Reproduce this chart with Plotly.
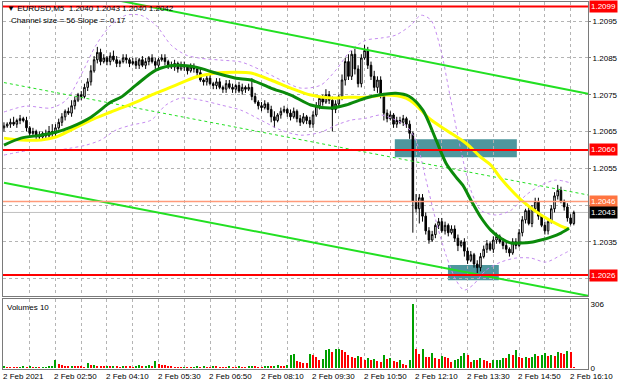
import plotly.graph_objects as go
from plotly.subplots import make_subplots

# ---------------- data (prices in pips above 1.2000) ----------------
BASE = 1.2000
first_open = 66.0

close_pips = [
    66.5, 67.0, 67.5, 67.0, 68.0, 68.5, 68.0,
    66.0, 64.5, 65.0, 64.0, 63.5, 64.5, 63.8, 65.0, 64.5, 66.0,
    67.5, 69.0, 70.5, 70.0, 72.0,
    73.5, 75.0, 74.5, 77.0, 78.5,
    81.5, 84.5, 86.5, 84.0,
    85.0, 84.0, 85.5, 84.5, 83.5, 84.0, 85.0, 84.5, 83.5, 84.0,
    83.0, 84.5, 83.0, 84.0, 85.0, 84.0, 83.0, 84.5, 85.0, 84.0,
    83.0, 82.5, 83.5, 82.0, 83.0, 82.5, 81.5, 82.5, 82.0, 81.0,
    79.0, 78.5, 79.5, 78.0, 77.5, 78.5, 77.0, 76.5, 78.0, 77.0,
    76.5, 77.5, 76.0, 77.0, 76.5, 77.0,
    74.5,
    73.0, 72.0, 71.5, 72.5, 71.0,
    69.0, 68.0, 69.5, 70.5,
    71.0, 70.0, 69.0, 70.5, 68.5, 67.5, 69.0, 68.0, 67.0,
    69.5, 72.0, 74.0, 73.0, 75.0, 73.5,
    71.0, 72.5, 74.5,
    79.0, 84.0, 80.0, 86.0, 82.0, 78.0, 85.0, 87.0, 83.0,
    80.0, 77.0, 79.0, 75.0,
    70.0,
    68.5, 69.5, 67.0, 68.0, 67.5, 68.5, 67.0,
    64.5,
    46.0,
    44.0, 47.0, 42.0, 38.0,
    35.5, 37.0, 39.5, 40.5, 38.0, 39.5, 37.5, 38.5,
    36.0, 34.0, 35.0, 32.5,
    30.0, 31.5, 29.0, 28.0, 31.0, 33.0,
    34.5, 33.0, 35.5, 36.5, 35.0, 34.0,
    33.0, 32.0, 35.0, 34.0,
    37.5, 41.0, 43.5, 40.0, 44.0, 46.0,
    42.0, 39.5, 38.0, 40.5,
    44.0, 47.5, 49.0, 46.0, 44.5,
    41.5, 40.0, 43.0,
]

wick_up = [
    1, 0.5, 1, 1.5, 0.5, 1, 0.5, 1, 0.5, 1, 0.5, 1, 0.5, 1, 1.5, 2, 1,
    1, 1, 0.5, 1, 1.5, 1, 0.5, 1, 1, 1, 1.5, 1, 1.5, 1,
    1, 0.5, 1, 1.5, 1, 0.5, 1, 1, 0.5, 1, 1, 0.5, 1, 1, 0.5, 1, 1, 0.5, 1, 1,
    0.5, 1, 1, 0.5, 1, 1, 0.5, 1, 1, 0.5,
    1, 0.5, 1, 1, 0.5, 1, 1, 0.5, 1, 1, 1, 0.5, 1, 1, 0.5, 1,
    2.5,
    1, 0.5, 1, 1, 0.5, 1, 1.5, 0.5, 1, 1, 0.5, 1, 1, 0.5, 1, 1, 0.5, 1,
    1, 1, 0.5, 1, 1.5, 1, 1, 1, 0.5,
    1.5, 1, 2, 1, 1.5, 1, 1, 1.5, 1, 1, 1.5, 1, 1, 0.5, 1, 1, 0.5, 1, 1, 1, 0.5, 1,
    0.5,
    2, 1, 1, 1, 1, 1, 0.5, 1, 1, 1, 0.5, 1, 1, 1, 0.5, 1, 1, 1, 0.5, 1, 1, 1,
    1, 0.5, 1, 1, 0.5, 1, 1, 0.5, 1, 1, 1, 1, 0.5, 1, 1, 1, 1, 0.5, 1, 1,
    1, 1, 1.5, 1, 0.5, 1, 1, 0.5,
]

wick_dn = [
    1, 0.5, 1, 0.5, 1, 1, 0.5, 1, 1, 0.5, 1, 1, 0.5, 1, 0.5, 1, 1,
    0.5, 1, 1, 0.5, 1, 1, 0.5, 1, 0.5, 1, 1, 0.5, 1, 1,
    0.5, 1, 1, 0.5, 1, 1, 0.5, 1, 1, 0.5, 1, 1, 0.5, 1, 1, 0.5, 1, 1, 0.5, 1,
    1, 0.5, 1, 1, 0.5, 1, 1, 0.5, 1, 1,
    0.5, 1, 1, 0.5, 1, 1, 0.5, 1, 1, 0.5, 1, 1, 0.5, 1, 1, 0.5,
    1,
    0.5, 1, 1, 0.5, 1, 1.5, 2, 0.5, 1, 0.5, 1, 1, 0.5, 1, 1, 0.5, 1, 1,
    1, 0.5, 1, 1, 0.5, 1, 6, 1, 0.5,
    1, 1.5, 1, 1, 1.5, 1, 1, 0.5, 1, 1, 1, 1.5, 1, 2, 1, 0.5, 1, 1, 0.5, 1, 1, 1.5,
    8.5,
    1, 4, 1.5, 1, 1, 0.5, 1, 1, 0.5, 1, 1, 0.5, 1, 1.5, 0.5, 1.5, 1, 0.5, 1, 1.5, 1, 0.5,
    1, 0.5, 1, 1, 0.5, 1, 1, 1, 0.5, 1, 0.5, 1, 1, 0.5, 1, 1, 1, 0.5, 1, 1,
    0.5, 1, 1, 0.5, 1, 1, 0.5, 0.5,
]

volumes = [
    8, 6, 5, 5, 4, 6, 7, 6, 7, 5, 6, 4, 5, 6, 8, 10,
    38,
    20, 12, 10, 9, 10, 9, 8, 7, 6,
    22,
    12, 16, 10, 9, 8, 10, 7, 8, 7, 6, 9, 8, 7, 6, 10, 12, 8, 9, 14, 10,
    34,
    18, 16, 12, 9, 8, 6, 5, 4, 6, 5, 4, 6, 7, 5, 8, 6, 5, 9, 7, 6,
    5, 4, 8, 6, 5, 7, 6, 5, 8, 10, 7, 6, 5, 8, 9, 7, 10, 12, 9, 8, 12,
    60, 66, 34, 28, 24, 22, 68, 60, 52, 38, 42, 88, 92, 78, 90, 92, 86, 76, 62, 54,
    48, 58, 52, 38, 50, 40, 44, 34, 30, 60, 44, 48, 32, 30, 36, 20, 15, 40, 306, 90,
    68, 92, 52, 52, 72, 50, 45, 58, 52, 50, 30, 36, 45, 58, 72, 60, 30, 36, 36, 48,
    38, 34, 22, 36, 38, 40, 48, 48, 66, 60, 88, 52, 50, 52, 48, 54, 66, 58, 60, 70,
    58, 60, 55, 75, 72, 68, 80, 78, 4,
]

# moving averages / bands sampled along the chart (bar index, pips)
ma_green_i = [0, 5.3, 11.5, 16.1, 20.8, 27, 33.2, 36.3, 41, 47.2, 53.4, 59.6, 65.8, 72, 76.7,
              82.9, 89.1, 95.3, 101.6, 106.2, 112.4, 116.5, 121.7, 125.8, 130.1, 134.2, 137.3,
              140.4, 142.5, 145, 148.1, 151.2, 154.3, 157.5, 160.6, 163.7, 166.8, 169.9, 173, 175.5]
ma_green_p = [61.3, 63.2, 64.0, 64.8, 66.2, 68.9, 73.0, 74.3, 77.6, 81.7, 83.0, 82.5, 80.9, 79.5, 79.0,
              76.8, 74.9, 72.2, 71.4, 72.2, 74.1, 74.9, 75.4, 74.6, 70.8, 62.7, 56.4,
              52.6, 50.4, 46.4, 41.7, 38.2, 36.0, 34.7, 34.7, 34.9, 35.5, 36.3, 37.4, 38.7]

ma_yellow_i = [0, 5.3, 11.5, 16.1, 20.8, 27, 33.2, 41, 47.2, 53.4, 59.6, 65.8, 72, 76.7, 82.9,
               89.1, 95.3, 101.6, 106.8, 112.4, 118.6, 124.8, 128, 132, 137.3, 143.5, 148.1,
               151.2, 154.3, 160.6, 166.8, 173, 175.5]
ma_yellow_p = [63.2, 62.7, 62.7, 63.5, 65.4, 68.1, 70.3, 73.0, 75.4, 77.6, 79.8, 80.9, 81.1, 80.9, 79.0,
               76.8, 74.9, 74.1, 74.3, 74.3, 74.9, 74.1, 72.2, 68.6, 65.4, 61.8, 58.0,
               55.9, 52.3, 46.4, 42.3, 39.3, 38.5]

band_up_i = [0, 6.8, 14.6, 19.3, 23.9, 28.6, 33.2, 37.9, 42.5, 47.2, 51.9, 56.5, 61.2, 67.4, 73.6,
             79.8, 86, 92.2, 98.4, 103.1, 107.8, 112.4, 117.1, 121.7, 126.4, 129.5, 132.6, 135.7,
             138.8, 141.9, 145, 148.1, 152.8, 157.5, 162.1, 166.8, 171.4, 176.1]
band_up_p = [70.3, 71.9, 71.4, 73.5, 80.3, 88.5, 93.9, 96.6, 96.6, 93.9, 88.5, 85.8, 84.9, 84.4, 83.9,
             81.7, 79.0, 76.8, 77.6, 81.7, 87.1, 89.8, 90.4, 91.2, 93.9, 96.6, 95.3, 87.1,
             73.5, 59.9, 49.1, 43.6, 42.3, 43.6, 47.7, 50.4, 51.8, 51.0]

band_dn_i = [0, 8.4, 16.1, 20.8, 25.5, 30.1, 34.8, 39.4, 45.7, 50.3, 55, 61.2, 67.4, 73.6, 79.8,
             86, 92.2, 98.4, 103.1, 107.8, 112.4, 117.1, 121.7, 124.8, 127.9, 131.1, 134.2, 137.3,
             140.4, 142.9, 145.7, 149.7, 154.3, 159, 163.7, 168.3, 173, 176.1]
band_dn_p = [58.6, 59.9, 59.9, 60.5, 61.3, 62.7, 65.4, 66.7, 68.1, 72.2, 74.1, 73.5, 72.2, 70.8, 68.1,
             65.4, 64.0, 64.8, 66.7, 68.1, 68.6, 69.5, 68.1, 66.7, 62.7, 51.8, 40.6, 31.4,
             24.6, 21.9, 23.3, 27.3, 29.5, 30.6, 30.6, 29.5, 31.4, 32.8]

# regression channel (bar index endpoints, pips)
chan_i = [0, 181.7]
chan_upper = [106.8, 75.2]
chan_mid = [78.3, 47.7]
chan_lower = [51.1, 20.3]

# horizontal levels
level_red = [1.2099, 1.2060, 1.2026]
level_orange = 1.2046
level_last = 1.2043

# zones (bar index from/to, price from/to)
zones = [(121.4, 159.3, 1.20580, 1.20629), (137.9, 153.7, 1.20246, 1.20287)]

# time axis labels
tick_idx = [0, 16, 32, 48, 64, 80, 96, 112, 128, 144, 160, 176]
tick_text = ["2 Feb 2021", "2 Feb 02:50", "2 Feb 04:10", "2 Feb 05:30", "2 Feb 06:50",
             "2 Feb 08:10", "2 Feb 09:30", "2 Feb 10:50", "2 Feb 12:10", "2 Feb 13:30",
             "2 Feb 14:50", "2 Feb 16:10"]

price_ticks = [1.2025, 1.2035, 1.2045, 1.2055, 1.2065, 1.2075, 1.2085, 1.2095]
price_tick_text = ["1.2025", "1.2035", "", "1.2055", "1.2065", "1.2075", "1.2085", "1.2095"]

n = len(close_pips)
assert n == 178 and len(wick_up) == n and len(wick_dn) == n and len(volumes) == n, (
    n, len(wick_up), len(wick_dn), len(volumes))

# ---------------- build ----------------
idx = list(range(n))
opens_p = [first_open] + close_pips[:-1]
P = lambda v: BASE + v / 10000.0
o = [P(v) for v in opens_p]
c = [P(v) for v in close_pips]
h = [P(max(a, b) + w) for a, b, w in zip(opens_p, close_pips, wick_up)]
lo = [P(min(a, b) - w) for a, b, w in zip(opens_p, close_pips, wick_dn)]

vol_colors = []
for k, v in enumerate(volumes):
    prev = volumes[k - 1] if k > 0 else 0
    vol_colors.append("#00a000" if v > prev else "#ff0000")

FONT = "Liberation Sans, Arial, sans-serif"
FS = 8

fig = make_subplots(rows=2, cols=1, shared_xaxes=True, vertical_spacing=0.0)

fig.add_trace(go.Candlestick(
    x=idx, open=o, high=h, low=lo, close=c,
    increasing=dict(line=dict(color="black", width=1), fillcolor="white"),
    decreasing=dict(line=dict(color="black", width=1), fillcolor="black"),
    whiskerwidth=0, showlegend=False, hoverinfo="skip"), row=1, col=1)

dot = dict(color="#c58cf0", width=1, dash="dot")
fig.add_trace(go.Scatter(x=band_up_i, y=[P(v) for v in band_up_p], mode="lines",
                         line=dict(shape="spline", smoothing=0.8, **dot), showlegend=False, hoverinfo="skip"), row=1, col=1)
fig.add_trace(go.Scatter(x=band_dn_i, y=[P(v) for v in band_dn_p], mode="lines",
                         line=dict(shape="spline", smoothing=0.8, **dot), showlegend=False, hoverinfo="skip"), row=1, col=1)

fig.add_trace(go.Scatter(x=chan_i, y=[P(v) for v in chan_upper], mode="lines",
                         line=dict(color="#22e022", width=2), showlegend=False, hoverinfo="skip"), row=1, col=1)
fig.add_trace(go.Scatter(x=chan_i, y=[P(v) for v in chan_mid], mode="lines",
                         line=dict(color="#22e022", width=1, dash="dot"), showlegend=False, hoverinfo="skip"), row=1, col=1)
fig.add_trace(go.Scatter(x=chan_i, y=[P(v) for v in chan_lower], mode="lines",
                         line=dict(color="#22e022", width=2), showlegend=False, hoverinfo="skip"), row=1, col=1)

fig.add_trace(go.Scatter(x=ma_yellow_i, y=[P(v) for v in ma_yellow_p], mode="lines",
                         line=dict(color="#ffff00", width=3, shape="spline", smoothing=0.8),
                         showlegend=False, hoverinfo="skip"), row=1, col=1)
fig.add_trace(go.Scatter(x=ma_green_i, y=[P(v) for v in ma_green_p], mode="lines",
                         line=dict(color="#0b8a0b", width=3, shape="spline", smoothing=0.8),
                         showlegend=False, hoverinfo="skip"), row=1, col=1)

fig.add_trace(go.Bar(x=idx, y=volumes, marker=dict(color=vol_colors, line=dict(width=0)),
                     width=0.62, showlegend=False, hoverinfo="skip"), row=2, col=1)

# zones and levels
for (x0, x1, y0, y1) in zones:
    fig.add_shape(type="rect", xref="x", yref="y", x0=x0, x1=x1, y0=y0, y1=y1,
                  fillcolor="#4e979e", line=dict(width=0), layer="below")
for lv in level_red:
    fig.add_shape(type="line", xref="x domain", yref="y", x0=0, x1=1, y0=lv, y1=lv,
                  line=dict(color="#ff0000", width=2), layer="above")
fig.add_shape(type="line", xref="x domain", yref="y", x0=0, x1=1, y0=level_orange, y1=level_orange,
              line=dict(color="#ff9a7a", width=1.5), layer="above")
fig.add_shape(type="line", xref="x domain", yref="y", x0=0, x1=1, y0=level_last, y1=level_last,
              line=dict(color="#c0c0c0", width=1), layer="below")

# price tags on the right axis
def tag(val, bg):
    fig.add_annotation(x=1.0, xref="paper", y=val, yref="y", xanchor="left", yanchor="middle",
                       text=f"{val:.4f}", showarrow=False, bgcolor=bg, borderpad=1,
                       font=dict(family=FONT, size=FS, color="white"), xshift=1)

for lv in level_red:
    tag(lv, "#ff0000")
tag(level_orange, "#ff7440")
tag(level_last, "#000000")

# header texts
fig.add_annotation(x=0.004, xref="paper", y=1.0, yref="paper", xanchor="left", yanchor="top",
                   text="▼ EURUSD,M5  1.2040 1.2043 1.2040 1.2042", showarrow=False,
                   font=dict(family=FONT, size=FS, color="black"), yshift=0)
fig.add_annotation(x=0.01, xref="paper", y=1.0, yref="paper", xanchor="left", yanchor="top",
                   text="Channel size = 56 Slope = -0.17", showarrow=False,
                   font=dict(family=FONT, size=FS, color="black"), yshift=-12)
fig.add_annotation(x=0.004, xref="paper", y=0.1907, yref="paper", xanchor="left", yanchor="top",
                   text="Volumes 10", showarrow=False,
                   font=dict(family=FONT, size=FS, color="black"), yshift=-2)

# time labels
for ti, tt in zip(tick_idx, tick_text):
    fig.add_annotation(x=ti, xref="x2", y=0, yref="paper", xanchor="left", yanchor="top",
                       text=tt, showarrow=False, font=dict(family=FONT, size=FS, color="black"),
                       yshift=-1, xshift=-3)

grid = dict(showgrid=True, gridcolor="#b4b4b4", gridwidth=1, griddash="3px,3px")
xcommon = dict(range=[-0.3, 181.4], tickmode="linear", tick0=0, dtick=8, showticklabels=False,
               ticks="", zeroline=False, showline=True, mirror=True, linecolor="#7a7a7a",
               linewidth=1, rangeslider=dict(visible=False), **grid)

fig.update_layout(
    width=620, height=388, margin=dict(l=3, r=32, t=2, b=19),
    paper_bgcolor="white", plot_bgcolor="white", showlegend=False, hovermode=False,
    font=dict(family=FONT, size=FS, color="black"),
    xaxis=xcommon, xaxis2=xcommon,
    yaxis=dict(domain=[0.199, 1.0], range=[1.20203, 1.21002], side="right",
               tickmode="array", tickvals=price_ticks, ticktext=price_tick_text,
               ticks="outside", ticklen=2, tickcolor="#7a7a7a", zeroline=False,
               showline=True, mirror=True, linecolor="#7a7a7a", linewidth=1, **grid),
    yaxis2=dict(domain=[0.0, 0.1907], range=[-5, 330], side="right", tickmode="array",
                tickvals=[0, 306], ticktext=["0", "306"], ticks="", showgrid=False,
                zeroline=False, showline=True, mirror=True, linecolor="#7a7a7a", linewidth=1),
    bargap=0,
)

fig.write_html(
    "out.html",
    config={"displayModeBar": False, "staticPlot": True},
    post_script="document.body.style.margin='0px';document.body.style.overflow='hidden';",
)
